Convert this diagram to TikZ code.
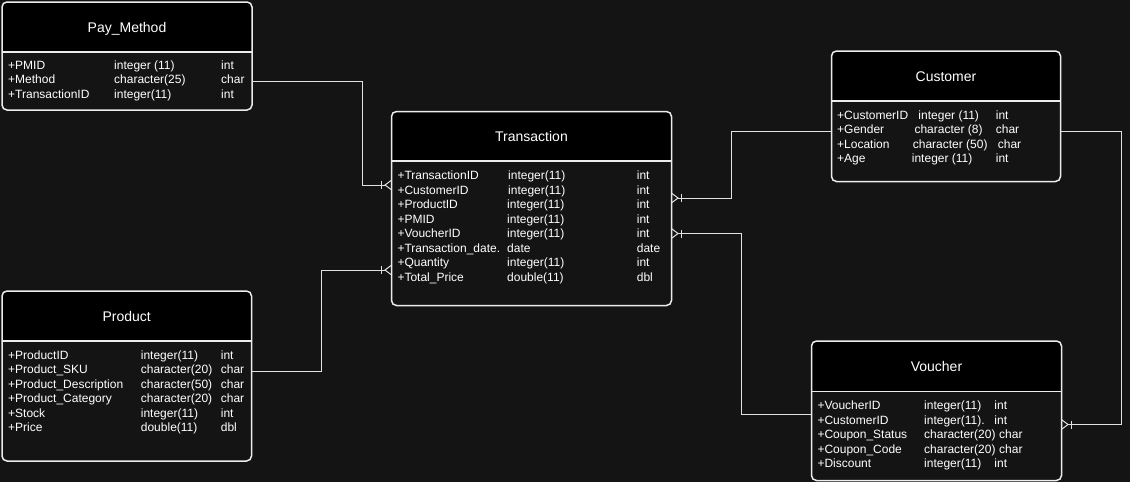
\documentclass[tikz,border=0pt]{standalone}
\usepackage{fontspec}
\setmainfont{Liberation Sans}
\usepackage{array}
\usepackage{tikz}
\usetikzlibrary{arrows.meta, positioning}
\definecolor{mybg}{RGB}{20,20,20}
\definecolor{myframe}{RGB}{236,236,236}
\definecolor{myrel}{RGB}{225,225,225}
\tikzset{
  tblshape/.style={rectangle, fill=mybg, rounded corners=5pt,
    inner sep=0pt, outer sep=0pt},
  tblframe/.style={draw=myframe, line width=1.5pt, rounded corners=5pt},
  tblsep/.style={draw=myframe, line width=1.5pt},
  tbltitle/.style={anchor=base, inner sep=0pt, text=white,
    font=\fontsize{14}{16}\selectfont},
  tblrows/.style={anchor=north west, inner sep=0pt, text=white,
    font=\fontsize{12}{14.5}\selectfont},
  relline/.style={draw=myrel, line width=1pt},
  crowfoot/.style={-{Bar[width=8pt,sep=2pt]Straight Barb[reversed,length=6pt,width=9pt]}}
}

\begin{document}
\begin{tikzpicture}[x=1pt, y=-1pt]
  \useasboundingbox[fill=mybg] (0,0) rectangle (1130,482);

  % Pay_Method
  \node[tblshape, minimum width=250pt, minimum height=108pt] (pay) at (127,56) {};
  \begin{scope}
    \clip[rounded corners=5pt] (pay.north west) rectangle (pay.south east);
    \fill[black] (pay.north west) rectangle ([yshift=-50pt]pay.north east);
  \end{scope}
  \draw[tblframe] (pay.north west) rectangle (pay.south east);
  \draw[tblsep] ([yshift=-50pt]pay.north west) -- ([yshift=-50pt]pay.north east);
  \node[tbltitle] (paytitle) at ([yshift=-30pt]pay.north) {Pay\_Method};
  \node[tblrows] (payrows) at (8,58.9) {\begin{tabular}{@{}p{106pt}@{}p{107pt}@{}l@{}}
    +PMID & integer (11) & int\\
    +Method & character(25) & char\\
    +TransactionID & integer(11) & int
  \end{tabular}};

  % Transaction
  \node[tblshape, minimum width=280pt, minimum height=194pt] (trans) at (531.5,208.5) {};
  \begin{scope}
    \clip[rounded corners=5pt] (trans.north west) rectangle (trans.south east);
    \fill[black] (trans.north west) rectangle ([yshift=-49.5pt]trans.north east);
  \end{scope}
  \draw[tblframe] (trans.north west) rectangle (trans.south east);
  \draw[tblsep] ([yshift=-49.5pt]trans.north west) -- ([yshift=-49.5pt]trans.north east);
  \node[tbltitle] (transtitle) at ([yshift=-30pt]trans.north) {Transaction};
  \node[tblrows] (transrows) at (397.3,169.4) {\begin{tabular}{@{}p{109.7pt}@{}p{129.7pt}@{}l@{}}
    +TransactionID & \hspace*{1pt}integer(11) & int\\
    +CustomerID & \hspace*{1pt}integer(11) & int\\
    +ProductID & integer(11) & int\\
    +PMID & integer(11) & int\\
    +VoucherID & integer(11) & int\\
    +Transaction\_date. & date & date\\
    +Quantity & integer(11) & int\\
    +Total\_Price & double(11) & dbl
  \end{tabular}};

  % Customer
  \node[tblshape, minimum width=229pt, minimum height=130.5pt] (cust) at (946,116.25) {};
  \begin{scope}
    \clip[rounded corners=5pt] (cust.north west) rectangle (cust.south east);
    \fill[black] (cust.north west) rectangle ([yshift=-50pt]cust.north east);
  \end{scope}
  \draw[tblframe] (cust.north west) rectangle (cust.south east);
  \draw[tblsep] ([yshift=-50pt]cust.north west) -- ([yshift=-50pt]cust.north east);
  \node[tbltitle] (custtitle) at ([yshift=-30.5pt]cust.north) {Customer};
  \node[tblrows] (custrows) at (837,108.9) {\begin{tabular}{@{}p{74.7pt}@{}p{84pt}@{}l@{}}
    +CustomerID & \hspace*{6.6pt}integer (11) & int\\
    +Gender & \hspace*{2.6pt}character (8) & char\\
    +Location & \hspace*{1pt}character (50) & \hspace*{2pt}char\\
    +Age & integer (11) & int
  \end{tabular}};

  % Product
  \node[tblshape, minimum width=249.5pt, minimum height=170pt] (prod) at (126.75,376) {};
  \begin{scope}
    \clip[rounded corners=5pt] (prod.north west) rectangle (prod.south east);
    \fill[black] (prod.north west) rectangle ([yshift=-50pt]prod.north east);
  \end{scope}
  \draw[tblframe] (prod.north west) rectangle (prod.south east);
  \draw[tblsep] ([yshift=-50pt]prod.north west) -- ([yshift=-50pt]prod.north east);
  \node[tbltitle] (prodtitle) at ([yshift=-30.5pt]prod.north) {Product};
  \node[tblrows] (prodrows) at (8,348.9) {\begin{tabular}{@{}p{132.7pt}@{}p{80pt}@{}l@{}}
    +ProductID & integer(11) & int\\
    +Product\_SKU & character(20) & char\\
    +Product\_Description & character(50) & char\\
    +Product\_Category & character(20) & char\\
    +Stock & integer(11) & int\\
    +Price & double(11) & dbl
  \end{tabular}};

  % Voucher
  \node[tblshape, minimum width=250pt, minimum height=139.5pt] (vouch) at (936.5,410.75) {};
  \begin{scope}
    \clip[rounded corners=5pt] (vouch.north west) rectangle (vouch.south east);
    \fill[black] (vouch.north west) rectangle ([yshift=-50.5pt]vouch.north east);
  \end{scope}
  \draw[tblframe] (vouch.north west) rectangle (vouch.south east);
  \draw[tblsep] ([yshift=-50.5pt]vouch.north west) -- ([yshift=-50.5pt]vouch.north east);
  \node[tbltitle] (vouchtitle) at ([yshift=-30.5pt]vouch.north) {Voucher};
  \node[tblrows] (vouchrows) at (817.3,399.4) {\begin{tabular}{@{}p{106.7pt}@{}p{70.3pt}@{}l@{}}
    +VoucherID & integer(11) & int\\
    +CustomerID & integer(11). & int\\
    +Coupon\_Status & character(20) & \hspace*{4.7pt}char\\
    +Coupon\_Code & character(20) & \hspace*{4.7pt}char\\
    +Discount & integer(11) & int
  \end{tabular}};

  % relations
  \draw[relline, crowfoot] ([yshift=-25pt]pay.east) -- ++(110,0) |- ([yshift=23.5pt]trans.west);
  \draw[relline, crowfoot] ([yshift=5pt]prod.east) -- ++(70,0) |- ([yshift=-61.5pt]trans.west);
  \draw[relline, crowfoot] ([yshift=-14.75pt]cust.west) -- ++(-100,0) |- ([yshift=10.5pt]trans.east);
  \draw[relline, crowfoot] ([yshift=-3.25pt]vouch.west) -- ++(-70,0) |- ([yshift=-25pt]trans.east);
  \draw[relline, crowfoot] ([yshift=-15.25pt]cust.east) -- ++(61,0) |- ([yshift=-13.75pt]vouch.east);
\end{tikzpicture}
\end{document}
